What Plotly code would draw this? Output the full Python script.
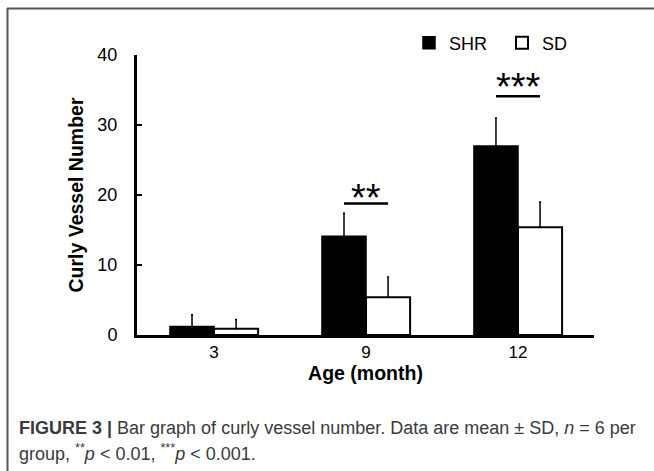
import plotly.graph_objects as go

# ---- data ----
ages = ["3", "9", "12"]
shr_mean = [1.2, 14.1, 27.0]
shr_sd = [1.7, 3.3, 4.0]
sd_mean = [0.9, 5.4, 15.4]
sd_sd = [1.3, 2.9, 3.6]
sig_labels = ["", "**", "***"]
sig_line_y = [None, 18.8, 34.1]

W, H = 654, 471
L, R, T, B = 137, 60, 20, 136
PW, PH = W - L - R, H - T - B
AX_TOP = 55  # pixel row of y=40
Y_DOMAIN_TOP = (H - B - AX_TOP) / PH


def px(xp):
    return (xp - L) / PW


def py(yp):
    return (H - B - yp) / PH


FONT = "Liberation Sans, Arial, sans-serif"

fig = go.Figure()
fig.add_trace(go.Bar(
    name="SHR", x=ages, y=shr_mean,
    marker=dict(color="black", line=dict(color="black", width=1.5)),
    error_y=dict(type="data", array=shr_sd, arrayminus=[0] * len(ages), symmetric=False,
                 color="black", thickness=1.5, width=1),
))
fig.add_trace(go.Bar(
    name="SD", x=ages, y=sd_mean,
    marker=dict(color="white", line=dict(color="black", width=2)),
    error_y=dict(type="data", array=sd_sd, arrayminus=[0] * len(ages), symmetric=False,
                 color="black", thickness=1.5, width=1),
))

half = 0.145
for i, (lab, ly) in enumerate(zip(sig_labels, sig_line_y)):
    if not lab:
        continue
    fig.add_shape(type="line", xref="x", yref="y", x0=i - half, x1=i + half, y0=ly, y1=ly,
                  line=dict(color="black", width=2.5))
    fig.add_annotation(x=i, y=ly, xref="x", yref="y", text=lab, showarrow=False,
                       yanchor="bottom", yshift=-18 if len(lab) == 2 else -14,
                       font=dict(family=FONT, size=38, color="black"))

# frame lines (top and left)
fig.add_shape(type="line", xref="paper", yref="paper", x0=px(7), x1=px(W), y0=py(8.5), y1=py(8.5),
              line=dict(color="#555555", width=2))
fig.add_shape(type="line", xref="paper", yref="paper", x0=px(7.5), x1=px(7.5), y0=py(8), y1=py(H),
              line=dict(color="#555555", width=2))

# caption
fig.add_annotation(xref="paper", yref="paper", x=px(17), y=py(428), xanchor="left", yanchor="middle",
                   showarrow=False, align="left",
                   text="<b>FIGURE 3 |</b> Bar graph of curly vessel number. Data are mean \u00b1 SD, <i>n</i> = 6 per",
                   font=dict(family=FONT, size=18, color="#3a3a3a"))
fig.add_annotation(xref="paper", yref="paper", x=px(17), y=py(452), xanchor="left", yanchor="middle",
                   showarrow=False, align="left",
                   text="group, <sup>**</sup><i>p</i> &lt; 0.01, <sup>***</sup><i>p</i> &lt; 0.001.",
                   font=dict(family=FONT, size=18, color="#3a3a3a"))

fig.update_layout(
    width=W, height=H,
    margin=dict(l=L, r=R, t=T, b=B, pad=0, autoexpand=False),
    paper_bgcolor="white", plot_bgcolor="white",
    barmode="group", bargap=0.42, bargroupgap=0,
    font=dict(family=FONT, size=18, color="black"),
    showlegend=True,
    legend=dict(orientation="h", x=px(409), y=py(43), xanchor="left", yanchor="middle",
                font=dict(family=FONT, size=18, color="black"), bgcolor="rgba(0,0,0,0)",
                traceorder="normal", entrywidth=48, entrywidthmode="pixels"),
    xaxis=dict(type="category", range=[-0.507, 2.5], showline=True, linewidth=3, linecolor="black",
               ticks="", showgrid=False, zeroline=False, tickfont=dict(size=17),
               title=dict(text="<b>Age (month)</b>", font=dict(size=19.5), standoff=0)),
    yaxis=dict(domain=[0, Y_DOMAIN_TOP], range=[0, 40], tickvals=[0, 10, 20, 30, 40], showline=True,
               linewidth=3, linecolor="black", ticks="inside", ticklen=5, tickwidth=2, tickcolor="black",
               showgrid=False, zeroline=False, tickfont=dict(size=18), ticklabelstandoff=13,
               title=dict(text="<b>Curly Vessel Number</b>", font=dict(size=19.5), standoff=9)),
)

fig.write_html("out.html", config={"displayModeBar": False},
               post_script="document.body.style.margin='0';")
